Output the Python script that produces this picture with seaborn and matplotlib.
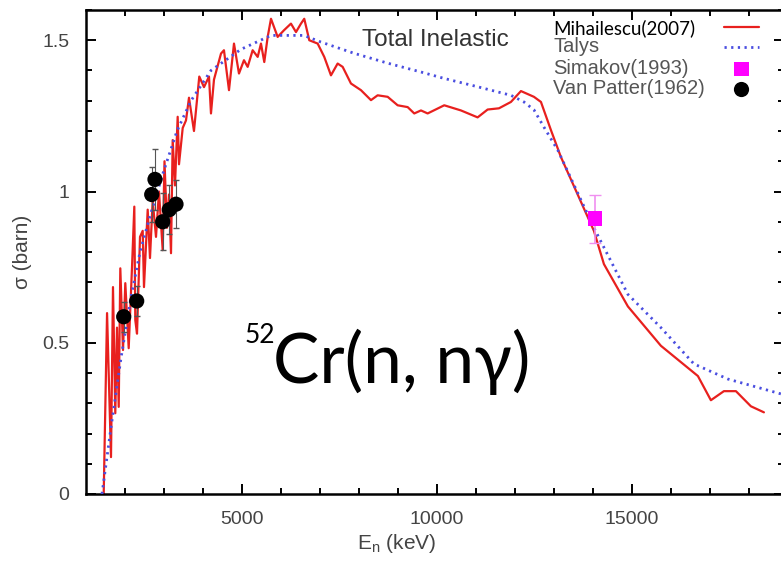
import numpy as np
import pandas as pd
import matplotlib.pyplot as plt
import seaborn as sns

# Mihailescu(2007) total inelastic cross section
mih_energy = [1454, 1540, 1641, 1692, 1751, 1795, 1839, 1880, 1949, 2008,
              2095, 2180, 2239, 2264, 2308, 2385, 2454, 2487, 2582, 2641,
              2710, 2795, 2872, 2967, 3013, 3077, 3128, 3180, 3223, 3282,
              3351, 3385, 3480, 3564, 3641, 3769, 3905, 4026, 4154, 4205,
              4282, 4462, 4538, 4667, 4795, 4923, 5051, 5146, 5274, 5403,
              5487, 5572, 5659, 5744, 5915, 6077, 6256, 6385, 6513, 6597,
              6726, 6941, 7110, 7282, 7453, 7582, 7795, 8051, 8308, 8479,
              8736, 8992, 9249, 9418, 9590, 9761, 10187, 10615, 11043, 11300,
              11590, 11897, 12154, 12487, 12667, 12923, 13179, 14025, 14282, 14897,
              15743, 16692, 17025, 17359, 17667, 18051, 18385]
mih_sigma = [0.0, 0.598, 0.122, 0.684, 0.267, 0.55, 0.288, 0.746, 0.476, 0.697,
             0.482, 0.75, 0.95, 0.575, 0.53, 0.85, 0.87, 0.684, 0.94, 0.78,
             0.97, 0.85, 1.0, 0.806, 1.10, 0.88, 0.99, 0.796, 1.17, 1.02,
             1.247, 1.09, 1.21, 1.235, 1.31, 1.20, 1.38, 1.345, 1.38, 1.258,
             1.37, 1.456, 1.467, 1.335, 1.489, 1.39, 1.434, 1.412, 1.467, 1.445,
             1.489, 1.428, 1.511, 1.571, 1.511, 1.533, 1.555, 1.527, 1.555, 1.571,
             1.50, 1.489, 1.445, 1.384, 1.423, 1.412, 1.357, 1.335, 1.302, 1.318,
             1.313, 1.285, 1.279, 1.258, 1.268, 1.258, 1.285, 1.268, 1.245, 1.271,
             1.275, 1.296, 1.332, 1.313, 1.296, 1.203, 1.114, 0.87, 0.76, 0.62,
             0.49, 0.39, 0.31, 0.34, 0.34, 0.29, 0.27]

# Talys calculation
talys_energy = [1410, 1641, 1898, 2154, 2385, 2667, 2974, 3333, 3692, 4205,
                4974, 5744, 6590, 7026, 7872, 8743, 9590, 10179, 11051, 11897,
                12231, 12487, 12743, 13102, 14025, 14897, 15743, 16590, 17461, 18846]
talys_sigma = [0.0, 0.22, 0.45, 0.65, 0.80, 0.93, 1.06, 1.20, 1.30, 1.40,
               1.47, 1.516, 1.516, 1.494, 1.457, 1.424, 1.395, 1.374, 1.346, 1.318,
               1.296, 1.27, 1.213, 1.136, 0.88, 0.66, 0.55, 0.43, 0.38, 0.33]

# Simakov(1993)
sim_energy = [14050]
sim_sigma = [0.91]
sim_err = [0.08]

# Van Patter(1962)
vp_energy = [1967, 2300, 2685, 2769, 2967, 3136, 3308]
vp_sigma = [0.586, 0.638, 0.99, 1.04, 0.90, 0.94, 0.958]
vp_err = [0.05, 0.05, 0.09, 0.10, 0.095, 0.08, 0.08]

sns.set_theme(style="ticks")
plt.rcParams["font.family"] = ["Liberation Sans", "DejaVu Sans"]
gray = "#444444"

fig = plt.figure(figsize=(7.81, 5.61), dpi=100)
ax = fig.add_axes([86 / 781, 67 / 561, 698 / 781, 484 / 561])

sns.lineplot(x=mih_energy, y=mih_sigma, ax=ax, color="#e8201e", lw=1.6,
             estimator=None, sort=False, label="Mihailescu(2007)", zorder=2)
sns.lineplot(x=talys_energy, y=talys_sigma, ax=ax, color="#4a4ee0", lw=2.0,
             linestyle=(0, (0.8, 1.6)), estimator=None, sort=False,
             label="Talys", zorder=3)

ax.errorbar(sim_energy, sim_sigma, yerr=sim_err, fmt="none", ecolor="#f08ff0",
            elinewidth=1.2, capsize=4, zorder=3)
sns.scatterplot(x=sim_energy, y=sim_sigma, ax=ax, marker="s", s=110,
                color="#ff00ff", edgecolor="none", label="Simakov(1993)", zorder=4)

ax.errorbar(vp_energy, vp_sigma, yerr=vp_err, fmt="none", ecolor="#555555",
            elinewidth=0.8, capsize=2, zorder=3)
sns.scatterplot(x=vp_energy, y=vp_sigma, ax=ax, marker="o", s=120,
                color="black", edgecolor="none", label="Van Patter(1962)", zorder=5)

ax.set_xlim(1000, 18900)
ax.set_ylim(0, 1.6)
ax.set_xticks([5000, 10000, 15000])
ax.set_xticks(np.arange(2000, 19000, 1000), minor=True)
ax.set_yticks([0, 0.5, 1, 1.5])
ax.set_yticklabels(["0", "0.5", "1", "1.5"])
ax.set_yticks(np.arange(0, 1.61, 0.1), minor=True)
ax.tick_params(which="both", direction="in", top=True, right=True,
               colors="black", labelcolor=gray, labelsize=14, width=1.4)
ax.tick_params(which="major", length=7, pad=12)
ax.tick_params(which="minor", length=4)
for sp in ax.spines.values():
    sp.set_linewidth(1.8)
    sp.set_color("black")

ax.set_xlabel("E$_\\mathregular{n}$ (keV)", fontsize=15, color=gray)
ax.xaxis.set_label_coords((397 - 86) / 698, -0.078)
ax.set_ylabel("σ (barn)", fontsize=15, color=gray, va="center")
ax.yaxis.set_label_coords((22 - 86) / 698, 0.5)

ax.text((435 - 86) / 698, (494 - 40) / 484, "Total Inelastic", transform=ax.transAxes,
        ha="center", va="center", fontsize=17.5, color="#333333")

# legend: handles in a column on the right, labels as a left-aligned column
handles, labels = ax.get_legend_handles_labels()
ax.legend(handles, [""] * len(handles), loc="upper left",
          bbox_to_anchor=(724 / 781, 1 - 20 / 561), bbox_transform=fig.transFigure,
          frameon=False, fontsize=14, handlelength=1.8, handletextpad=0,
          borderpad=0, borderaxespad=0, labelspacing=0.14)
row_y = [28, 47, 68, 88]
for i, lab in enumerate(labels):
    if i == 0:
        fig.text(553 / 781, 1 - row_y[i] / 561, lab, ha="left", va="center",
                 fontsize=13.5, color="black", family=["Lato", "DejaVu Sans"])
    else:
        fig.text(553 / 781, 1 - row_y[i] / 561, lab, ha="left", va="center",
                 fontsize=14.5, color="#555555")

fig.text(245 / 781, 1 - 343 / 561, "52", ha="left", va="baseline",
         fontsize=19, color="black", family=["Lato", "DejaVu Sans"])
fig.text(273 / 781, 1 - 383 / 561, "Cr(n, nγ)", ha="left", va="baseline",
         fontsize=50, color="black", family=["Lato", "Noto Sans", "DejaVu Sans"])

fig.savefig("out.png", dpi=100)
